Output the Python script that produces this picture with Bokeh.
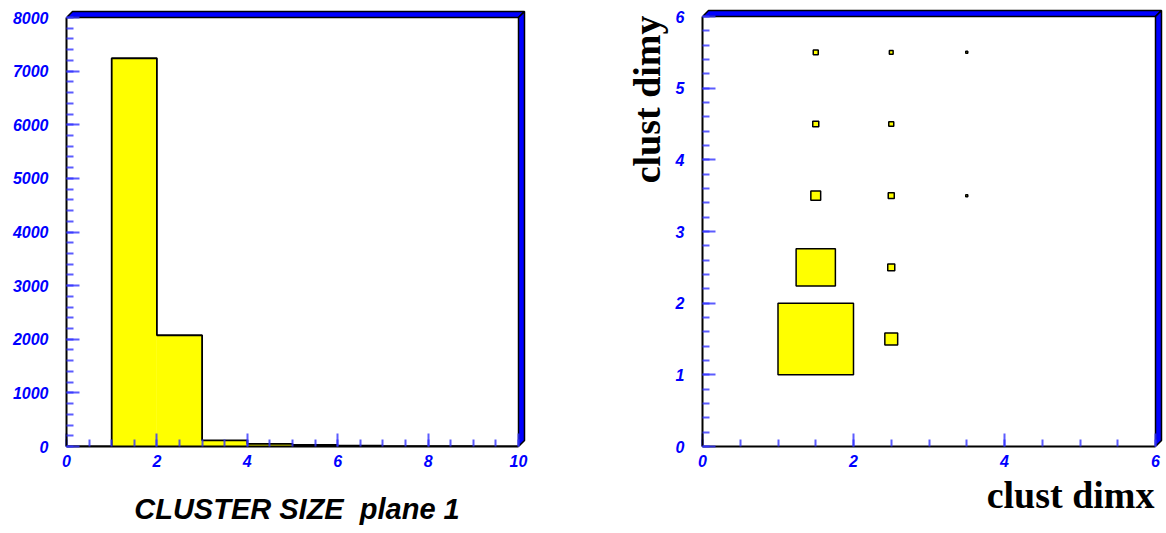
import math
from bokeh.plotting import figure
from bokeh.layouts import row
from bokeh.models import Range1d, SingleIntervalTicker, Title
from bokeh.embed import file_html
from bokeh.resources import INLINE

# ---------------- data ----------------
# Left: cluster size histogram (plane 1)
size_edges = [0, 1, 2, 3, 4, 5, 6, 7, 8, 9, 10]
size_counts = [0, 7240, 2075, 115, 50, 28, 14, 8, 5, 3]

# Right: clust dimx vs clust dimy (box plot, relative box size per cell)
dimx = [1.5, 1.5, 2.5, 1.5, 2.5, 1.5, 2.5, 1.5, 2.5, 3.5, 2.5, 3.5]
dimy = [1.5, 2.5, 1.5, 3.5, 2.5, 4.5, 3.5, 5.5, 4.5, 5.5, 5.5, 3.5]
box_rel = [1.0, 0.52, 0.17, 0.13, 0.093, 0.08, 0.08, 0.066, 0.066, 0.027, 0.05, 0.027]

left_xticks_interval = 2
left_yticks_interval = 1000
right_xticks_interval = 2
right_yticks_interval = 1

TICK_FONT = "Liberation Sans"
TICK_COLOR = "#3333ff"
LABEL_BLUE = "#0000ff"
W, H = 583, 533
BAND = 6  # px offset of the 3D frame band


def style_axes(p, xb, yb, xint, yint, xminor, yminor):
    p.xaxis.bounds = xb
    p.yaxis.bounds = yb
    p.xaxis.ticker = SingleIntervalTicker(interval=xint, num_minor_ticks=xminor)
    p.yaxis.ticker = SingleIntervalTicker(interval=yint, num_minor_ticks=yminor)
    for ax in (p.xaxis[0], p.yaxis[0]):
        ax.axis_line_color = "black"
        ax.axis_line_width = 2
        ax.major_tick_in = 13
        ax.major_tick_out = 0
        ax.minor_tick_in = 7
        ax.minor_tick_out = 0
        ax.major_tick_line_color = TICK_COLOR
        ax.major_tick_line_alpha = 0.8
        ax.major_tick_line_width = 2
        ax.minor_tick_line_color = TICK_COLOR
        ax.minor_tick_line_alpha = 0.8
        ax.minor_tick_line_width = 2
        ax.major_label_text_font = TICK_FONT
        ax.major_label_text_font_style = "bold italic"
        ax.major_label_text_font_size = "16px"
        ax.major_label_text_color = LABEL_BLUE
    p.xaxis.major_label_standoff = 8
    p.yaxis.major_label_standoff = 18
    p.xgrid.visible = False
    p.ygrid.visible = False
    p.outline_line_color = None


def add_band(p, xmax, ymax, inner_w, inner_h):
    bx = BAND * xmax / inner_w
    by = BAND * ymax / inner_h
    p.patches(
        xs=[[0, bx, xmax + bx, xmax], [xmax, xmax + bx, xmax + bx, xmax]],
        ys=[[ymax, ymax + by, ymax + by, ymax], [0, by, ymax + by, ymax]],
        fill_color="#0000ff", line_color="black", line_width=1.5,
    )


# ---------------- left panel ----------------
L_left, L_inner_w, L_pad = 66, 452, 9
L_top, L_inner_h, L_tpad = 8, 429, 9
L_fw = L_inner_w + L_pad
L_fh = L_inner_h + L_tpad
xmax_l = size_edges[-1]
ymax_l = 8000

p1 = figure(width=W, height=H, output_backend="svg", toolbar_location=None,
            x_range=Range1d(0, xmax_l * L_fw / L_inner_w),
            y_range=Range1d(0, ymax_l * L_fh / L_inner_h),
            min_border_left=L_left, min_border_right=W - L_left - L_fw,
            min_border_top=L_top, min_border_bottom=H - L_top - L_fh)
p1.background_fill_color = "white"
p1.border_fill_color = "white"

p1.quad(left=size_edges[:-1], right=size_edges[1:], top=size_counts, bottom=0,
        fill_color="#ffff00", line_color=None)
# step outline
sx, sy = [size_edges[0]], [0]
for i, c in enumerate(size_counts):
    sx += [size_edges[i], size_edges[i + 1]]
    sy += [c, c]
sx.append(size_edges[-1]); sy.append(0)
p1.line(sx, sy, line_color="black", line_width=1.8)

add_band(p1, xmax_l, ymax_l, L_inner_w, L_inner_h)
style_axes(p1, (0, xmax_l), (0, ymax_l), left_xticks_interval, left_yticks_interval, 4, 5)
p1.xaxis.axis_label = "CLUSTER SIZE\u00a0 plane 1"
p1.xaxis.axis_label_text_font = TICK_FONT
p1.xaxis.axis_label_text_font_style = "bold italic"
p1.xaxis.axis_label_text_font_size = "29px"
p1.xaxis.axis_label_text_color = "black"
p1.xaxis.axis_label_standoff = 23

# ---------------- right panel ----------------
R_left, R_inner_w, R_pad = 119, 453, 9
R_top, R_inner_h, R_tpad = 8, 430, 8
R_fw = R_inner_w + R_pad
R_fh = R_inner_h + R_tpad
xmax_r, ymax_r = 6, 6

p2 = figure(width=W, height=H, output_backend="svg", toolbar_location=None,
            x_range=Range1d(0, xmax_r * R_fw / R_inner_w),
            y_range=Range1d(0, ymax_r * R_fh / R_inner_h),
            min_border_left=R_left, min_border_right=W - R_left - R_fw,
            min_border_top=R_top, min_border_bottom=H - R_top - R_fh)
p2.background_fill_color = "white"
p2.border_fill_color = "white"

p2.rect(x=dimx, y=dimy, width=box_rel, height=box_rel,
        fill_color="#ffff00", line_color="black", line_width=1.5)

add_band(p2, xmax_r, ymax_r, R_inner_w, R_inner_h)
style_axes(p2, (0, xmax_r), (0, ymax_r), right_xticks_interval, right_yticks_interval, 4, 5)

p2.add_layout(Title(text="clust dimx", align="right", offset=10, standoff=5,
                    text_font="Liberation Serif", text_font_style="bold",
                    text_font_size="38px", text_color="black"), "below")
p2.add_layout(Title(text="clust dimy", align="right", offset=7, standoff=10,
                    text_font="Liberation Serif", text_font_style="bold",
                    text_font_size="38px", text_color="black"), "left")

layout = row(p1, p2, spacing=0)
open("out.html", "w").write(file_html(layout, INLINE))
